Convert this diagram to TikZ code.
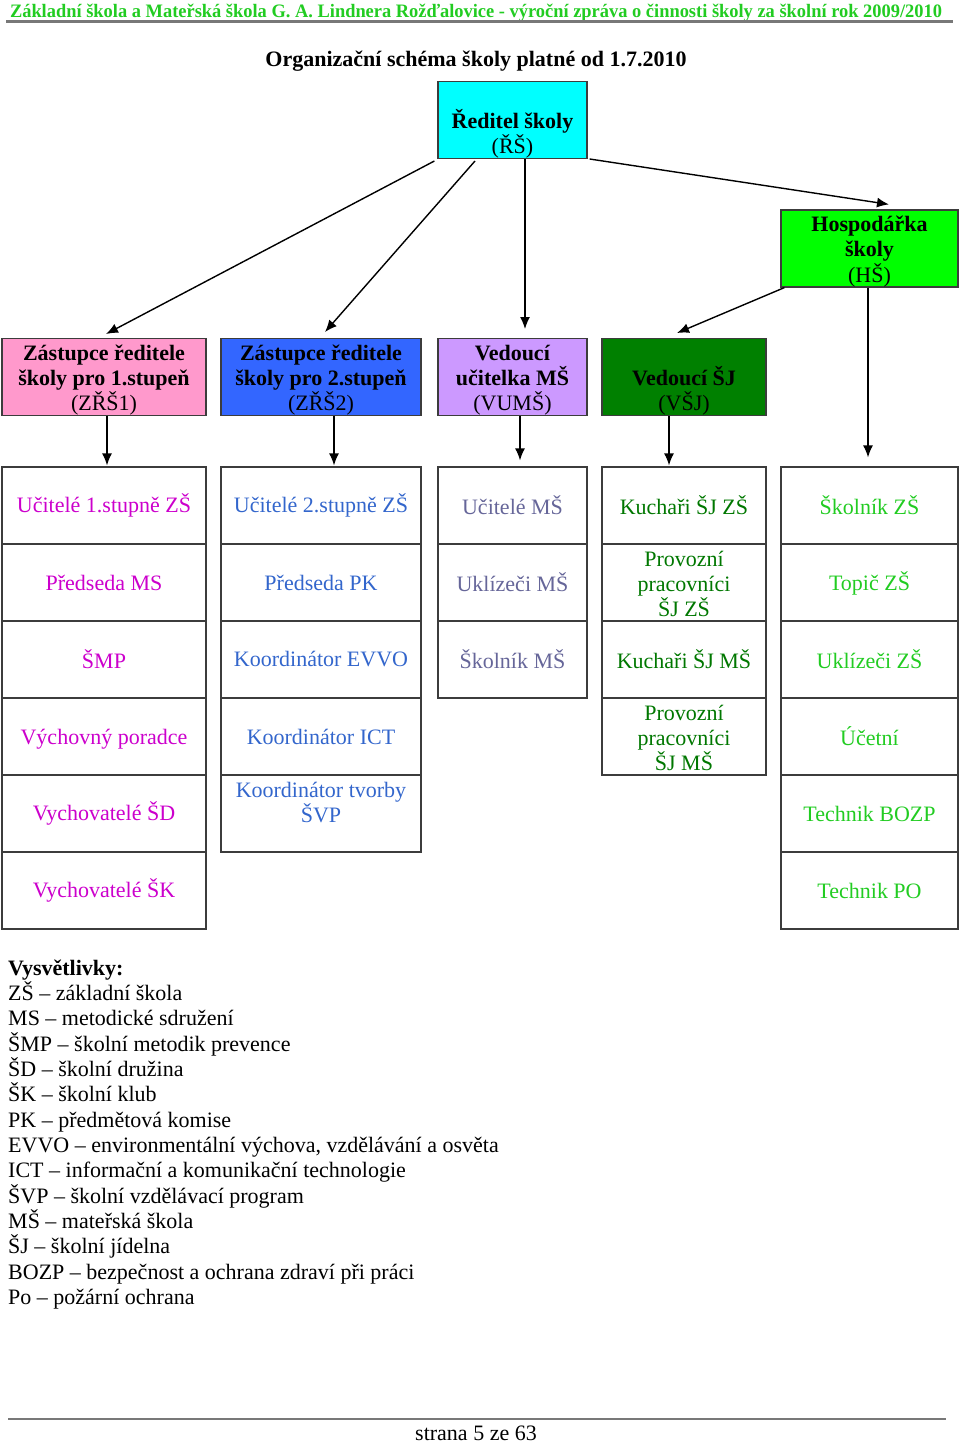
\documentclass[tikz,border=0pt]{standalone}
\usepackage{fontspec}
\usepackage{graphicx}
\setmainfont{Liberation Serif}
\usetikzlibrary{arrows.meta}
\definecolor{hdrgreen}{RGB}{34,204,34}
\definecolor{boxline}{RGB}{60,60,60}
\definecolor{rulegray}{RGB}{120,120,120}
\definecolor{fcyan}{RGB}{0,255,255}
\definecolor{fgreen}{RGB}{0,255,0}
\definecolor{fpink}{RGB}{255,153,204}
\definecolor{fblue}{RGB}{51,102,255}
\definecolor{flav}{RGB}{204,153,255}
\definecolor{fdkgreen}{RGB}{0,128,0}
\definecolor{tone}{RGB}{204,0,204}
\definecolor{ttwo}{RGB}{51,102,204}
\definecolor{tthree}{RGB}{102,102,153}
\definecolor{tfour}{RGB}{0,119,0}
\definecolor{tfive}{RGB}{34,204,34}
\newcommand\ls{\rule[-3.8pt]{0pt}{25.3pt}}
\newcommand\cellfont{\fontsize{22}{25.3}\selectfont\lineskiplimit -100pt\relax}
\begin{document}
\begin{tikzpicture}[x=1pt,y=-1pt,
  cell/.style={draw=boxline, line width=1.2pt, minimum height=77pt, inner sep=0pt,
    align=center, font=\cellfont},
  c1/.style={cell, minimum width=204pt, text=tone},
  c2/.style={cell, minimum width=200pt, text=ttwo},
  c3/.style={cell, minimum width=149pt, text=tthree},
  c4/.style={cell, minimum width=164pt, text=tfour},
  c5/.style={cell, minimum width=177pt, text=tfive},
  topbox/.style={cell, minimum height=76pt, text=black},
  arr/.style={draw=black, line width=1.4pt, -{Latex[length=12pt,width=10pt]}},
  hline/.style={draw=rulegray, line width=2.2pt},
  leg/.style={anchor=base west, inner sep=0pt, font=\fontsize{22}{25.3}\selectfont}
]
\useasboundingbox (0,0) rectangle (960,1443);

% header
\node[anchor=base, inner sep=0pt, text=hdrgreen, font=\fontsize{19}{22}\selectfont\bfseries] (hdr) at (476,17)
  {\resizebox{932pt}{\height}{Základní škola a Mateřská škola G. A. Lindnera Rožďalovice - výroční zpráva o činnosti školy za školní rok 2009/2010}};
\coordinate (hl1) at (6,21.5);
\coordinate (hl2) at (953,21.5);
\draw[hline] (hl1) -- (hl2);

\node[anchor=base, inner sep=0pt, font=\fontsize{22}{25.3}\selectfont\bfseries] (title) at (476,66)
  {Organizační schéma školy platné od 1.7.2010};

% top level boxes
\node[topbox, fill=fcyan, minimum width=149pt] (rs) at (512.5,120)
  {\ls\\\ls\textbf{Ředitel školy}\\\ls(ŘŠ)};
\node[topbox, fill=fgreen, minimum width=177pt, minimum height=77pt] (hs) at (869.5,248.5)
  {\ls\textbf{Hospodářka}\\\ls\textbf{školy}\\\ls(HŠ)};
\node[topbox, fill=fpink, minimum width=204pt] (z1) at (104,377)
  {\ls\textbf{Zástupce ředitele}\\\ls\textbf{školy pro 1.stupeň}\\\ls(ZŘŠ1)};
\node[topbox, fill=fblue, minimum width=200pt] (z2) at (321,377)
  {\ls\textbf{Zástupce ředitele}\\\ls\textbf{školy pro 2.stupeň}\\\ls(ZŘŠ2)};
\node[topbox, fill=flav, minimum width=149pt] (vu) at (512.5,377)
  {\ls\textbf{Vedoucí}\\\ls\textbf{učitelka MŠ}\\\ls(VUMŠ)};
\node[topbox, fill=fdkgreen, minimum width=164pt] (vsj) at (684,377)
  {\ls\\\ls\textbf{Vedoucí ŠJ}\\\ls(VŠJ)};

% column 1
\node[c1] (g11) at (104,505.5) {Učitelé 1.stupně ZŠ};
\node[c1] (g12) at (104,582.5) {Předseda MS};
\node[c1] (g13) at (104,659.5) {ŠMP};
\node[c1] (g14) at (104,736.5) {\ls Výchovný poradce};
\node[c1] (g15) at (104,813.5) {Vychovatelé ŠD};
\node[c1] (g16) at (104,890.5) {Vychovatelé ŠK};
% column 2
\node[c2] (g21) at (321,505.5) {Učitelé 2.stupně ZŠ};
\node[c2] (g22) at (321,582.5) {Předseda PK};
\node[c2] (g23) at (321,659.5) {Koordinátor EVVO};
\node[c2] (g24) at (321,736.5) {Koordinátor ICT};
\node[c2] (g25) at (321,813.5) {\ls Koordinátor tvorby\\\ls ŠVP\\\ls};
% column 3
\node[c3] (g31) at (512.5,505.5) {Učitelé MŠ};
\node[c3] (g32) at (512.5,582.5) {Uklízeči MŠ};
\node[c3] (g33) at (512.5,659.5) {Školník MŠ};
% column 4
\node[c4] (g41) at (684,505.5) {Kuchaři ŠJ ZŠ};
\node[c4] (g42) at (684,582.5) {\ls Provozní\\\ls pracovníci\\\ls ŠJ ZŠ};
\node[c4] (g43) at (684,659.5) {Kuchaři ŠJ MŠ};
\node[c4] (g44) at (684,736.5) {\ls Provozní\\\ls pracovníci\\\ls ŠJ MŠ};
% column 5
\node[c5] (g51) at (869.5,505.5) {Školník ZŠ};
\node[c5] (g52) at (869.5,582.5) {\ls Topič ZŠ};
\node[c5] (g53) at (869.5,659.5) {Uklízeči ZŠ};
\node[c5] (g54) at (869.5,736.5) {Účetní};
\node[c5] (g55) at (869.5,813.5) {Technik BOZP};
\node[c5] (g56) at (869.5,890.5) {Technik PO};

% connectors
\draw[arr] ([xshift=-3pt,yshift=-2pt]rs.south west) -- ([xshift=2pt,yshift=4pt]z1.north);
\draw[arr] ([xshift=-37.5pt,yshift=-2pt]rs.south) -- ([xshift=4pt,yshift=6pt]z2.north);
\draw[arr] ([xshift=12.5pt]rs.south) -- ([xshift=12.5pt,yshift=9pt]vu.north);
\draw[arr] ([xshift=2pt]rs.south east) -- ([xshift=19.5pt,yshift=5pt]hs.north);
\draw[arr] ([xshift=4pt]hs.south west) -- ([xshift=-7pt,yshift=5pt]vsj.north);
\draw[arr] ([xshift=-1.5pt]hs.south) -- ([xshift=-1.5pt,yshift=9pt]g51.north);
\draw[arr] ([xshift=3pt]z1.south) -- ([xshift=3pt,yshift=1pt]g11.north);
\draw[arr] ([xshift=13pt]z2.south) -- ([xshift=13pt,yshift=1pt]g21.north);
\draw[arr] ([xshift=7.5pt]vu.south) -- ([xshift=7.5pt,yshift=6pt]g31.north);
\draw[arr] ([xshift=-15pt]vsj.south) -- ([xshift=-15pt,yshift=1pt]g41.north);

% legend
\node[leg] (l0) at (8,975) {\textbf{Vysvětlivky:}};
\node[leg] (l1) at (8,1000.33) {ZŠ – základní škola};
\node[leg] (l2) at (8,1025.67) {MS – metodické sdružení};
\node[leg] (l3) at (8,1051) {ŠMP – školní metodik prevence};
\node[leg] (l4) at (8,1076.33) {ŠD – školní družina};
\node[leg] (l5) at (8,1101.67) {ŠK – školní klub};
\node[leg] (l6) at (8,1127) {PK – předmětová komise};
\node[leg] (l7) at (8,1152.33) {EVVO – environmentální výchova, vzdělávání a osvěta};
\node[leg] (l8) at (8,1177.67) {ICT – informační a komunikační technologie};
\node[leg] (l9) at (8,1203) {ŠVP – školní vzdělávací program};
\node[leg] (l10) at (8,1228.33) {MŠ – mateřská škola};
\node[leg] (l11) at (8,1253.67) {ŠJ – školní jídelna};
\node[leg] (l12) at (8,1279) {BOZP – bezpečnost a ochrana zdraví při práci};
\node[leg] (l13) at (8,1304.33) {Po – požární ochrana};

% footer
\coordinate (fl1) at (8,1419);
\coordinate (fl2) at (946,1419);
\draw[hline] (fl1) -- (fl2);
\node[anchor=base, inner sep=0pt, font=\fontsize{22}{25.3}\selectfont] (foot) at (476,1440) {strana 5 ze 63};
\end{tikzpicture}
\end{document}
